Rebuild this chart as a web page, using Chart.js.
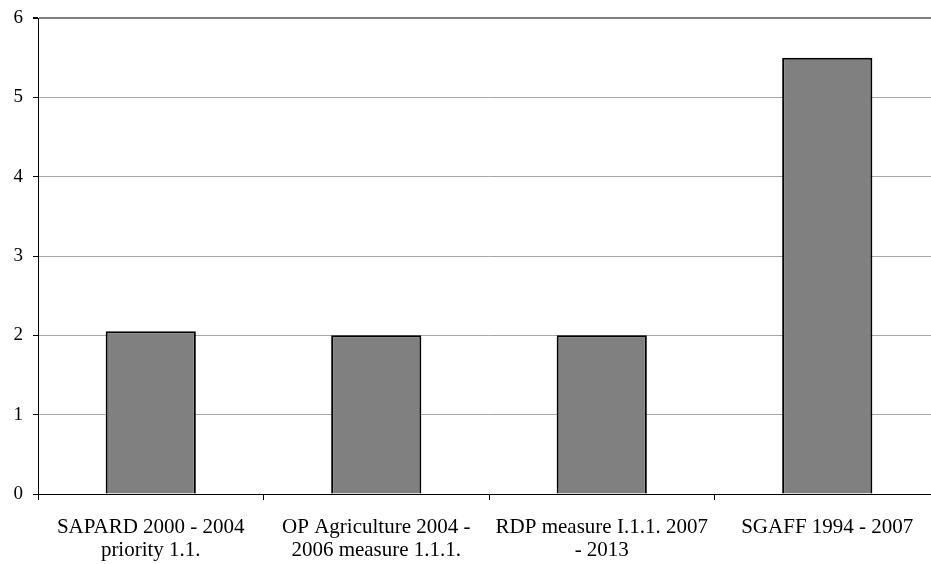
<!DOCTYPE html>
<html>
<head>
<meta charset="utf-8">
<script src="https://cdn.jsdelivr.net/npm/chart.js@4.4.1/dist/chart.umd.min.js"></script>
<style>
  html, body { margin: 0; padding: 0; background: #fff; overflow: hidden; }
  #wrap { width: 945px; height: 564px; position: relative; }
</style>
</head>
<body>
<div id="wrap"><canvas id="chart"></canvas></div>
<script>
// data
const categories = [
  ['SAPARD 2000 - 2004', 'priority 1.1.'],
  ['OP Agriculture 2004 -', '2006 measure 1.1.1.'],
  ['RDP measure I.1.1. 2007', '- 2013'],
  ['SGAFF 1994 - 2007']
];
const values = [2.05, 2.0, 2.0, 5.5];
const yTicks = [0, 1, 2, 3, 4, 5, 6];

const serif = '"Liberation Serif", "Times New Roman", serif';

const ctx = document.getElementById('chart').getContext('2d');
const chart = new Chart(ctx, {
  type: 'bar',
  data: {
    labels: categories,
    datasets: [{
      data: values,
      backgroundColor: '#808080',
      borderColor: '#000000',
      borderWidth: 2,
      barPercentage: 0.4,
      categoryPercentage: 1.0
    }]
  },
  options: {
    responsive: true,
    maintainAspectRatio: false,
    animation: false,
    layout: { padding: { top: 18, right: 5, left: 0, bottom: 0 } },
    plugins: {
      legend: { display: false },
      tooltip: { enabled: false }
    },
    scales: {
      x: {
        offset: true,
        grid: {
          offset: true,
          drawOnChartArea: false,
          color: '#000',
          tickLength: 6
        },
        border: { color: '#000', width: 1 },
        ticks: {
          color: '#000',
          font: { family: serif, size: 21, lineHeight: 1.1 },
          padding: 16,
          maxRotation: 0,
          autoSkip: false
        },
        afterFit: function (s) { s.height = 70; }
      },
      y: {
        min: 0,
        max: 6,
        afterBuildTicks: function (s) {
          s.ticks = yTicks.map(v => ({ value: v }));
        },
        grid: {
          color: c => c.tick && c.tick.value === 6 ? '#808080' : '#a6a6a6',
          lineWidth: c => c.tick && c.tick.value === 6 ? 2 : 1,
          tickColor: '#000',
          tickLength: 5
        },
        border: { color: '#000', width: 1 },
        ticks: {
          color: '#000',
          // small lineHeight keeps the top label from pushing the plot down
          font: { family: serif, size: 19, lineHeight: 0.5 },
          padding: 10
        },
        afterFit: function (s) { s.width = 38; }
      }
    }
  }
});
</script>
</body>
</html>
